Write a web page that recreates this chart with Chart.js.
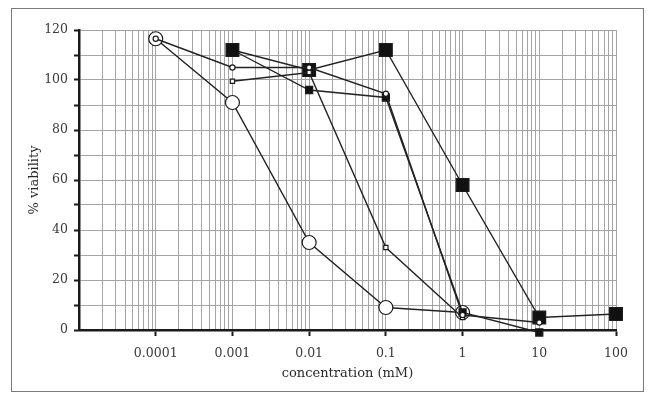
<!DOCTYPE html>
<html>
<head>
<meta charset="utf-8">
<script src="https://cdn.jsdelivr.net/npm/chart.js@4.4.0/dist/chart.umd.min.js"></script>
<style>
    html, body { margin: 0; padding: 0; background: #fff; }
    #wrap { position: relative; width: 655px; height: 395px; }
    #frame { position: absolute; left: 11px; top: 8px; width: 631px; height: 382px; border: 1px solid #7a7a7a; pointer-events: none; }
</style>
</head>
<body>
<div id="wrap">
    <canvas id="chart" width="655" height="395"></canvas>
    <div id="frame"></div>
</div>
<script>
// concentration (mM) on x, % viability on y
const concentrations = [0.0001, 0.001, 0.01, 0.1, 1, 10, 100];
const largeOpenCircles   = [116.5, 91, 35, 9, 7, null, null];
const smallOpenCircles   = [116.5, 105, 105, 94.5, 6, 3, null];
const smallOpenSquares   = [null, 99.5, 103, 33, 5, null, null];
const largeFilledSquares = [null, 112, 104, 112, 58, 5, 6.4];
const smallFilledSquares = [null, 112, 96, 93, 7, -1, null];

// axis ticks
const decades = [0.00001, 0.0001, 0.001, 0.01, 0.1, 1, 10, 100];
const decadeLabels = ['', '0.0001', '0.001', '0.01', '0.1', '1', '10', '100'];
const yTickLabels = [0, 20, 40, 60, 80, 100, 120];

const FONT = 'DejaVu Serif';

function toPoints(values) {
    return concentrations
        .map((c, i) => ({ x: c, y: values[i] }))
        .filter(p => p.y !== null);
}

function decadeIndex(value) {
    return decades.findIndex(d => Math.abs(d - value) / d < 1e-9);
}

// every 1..9 x 10^n gets a grid line, only labelled decades get a tick mark
function buildLogTicks() {
    const ticks = [];
    for (let i = 0; i < decades.length - 1; i++) {
        for (let m = 1; m <= 9; m++) {
            ticks.push({ value: decades[i] * m, major: m === 1 && decadeLabels[i] !== '' });
        }
    }
    ticks.push({ value: decades[decades.length - 1], major: true });
    return ticks;
}

function series(values, style, radius, fill) {
    return {
        data: toPoints(values),
        borderColor: '#222',
        borderWidth: 1.4,
        pointStyle: style,
        pointRadius: radius,
        pointBackgroundColor: fill,
        pointBorderColor: '#1a1a1a',
        pointBorderWidth: 1.2,
        tension: 0,
        clip: false
    };
}

new Chart(document.getElementById('chart').getContext('2d'), {
    type: 'line',
    data: {
        datasets: [
            series(smallOpenCircles, 'circle', 2.6, '#fff'),
            series(smallOpenSquares, 'rect', 3, '#fff'),
            series(largeFilledSquares, 'rect', 9, '#111'),
            series(smallFilledSquares, 'rect', 5, '#111'),
            series(largeOpenCircles, 'circle', 7, '#fff')
        ]
    },
    options: {
        responsive: false,
        animation: false,
        layout: { padding: { top: 30, right: 39, left: 0, bottom: 0 } },
        plugins: {
            legend: { display: false },
            tooltip: { enabled: false }
        },
        scales: {
            x: {
                type: 'logarithmic',
                min: decades[0],
                max: decades[decades.length - 1],
                afterBuildTicks: scale => { scale.ticks = buildLogTicks(); },
                afterFit: scale => { scale.height = 65; },
                border: { color: '#1a1a1a', width: 2.5 },
                grid: {
                    color: '#a4a4a4',
                    lineWidth: 1,
                    tickLength: 6,
                    tickColor: ctx => (ctx.tick && ctx.tick.major ? '#1a1a1a' : 'rgba(0,0,0,0)'),
                    tickWidth: 2
                },
                ticks: {
                    autoSkip: false,
                    maxRotation: 0,
                    padding: 10,
                    color: '#3a3a3a',
                    font: { family: FONT, size: 12.5 },
                    callback: value => {
                        const i = decadeIndex(value);
                        return i >= 0 ? decadeLabels[i] : '';
                    }
                },
                title: {
                    display: true,
                    text: 'concentration (mM)',
                    color: '#2a2a2a',
                    font: { family: FONT, size: 13 },
                    padding: { top: 0, bottom: 14 }
                }
            },
            y: {
                min: 0,
                max: 120,
                afterFit: scale => { scale.width = 79; },
                border: { color: '#1a1a1a', width: 2.5 },
                grid: {
                    color: '#a4a4a4',
                    lineWidth: 1,
                    tickLength: 5,
                    tickColor: '#1a1a1a',
                    tickWidth: 2
                },
                ticks: {
                    stepSize: 10,
                    padding: 6,
                    color: '#3a3a3a',
                    font: { family: FONT, size: 12.5 },
                    callback: value => (yTickLabels.includes(value) ? value : '')
                },
                title: {
                    display: true,
                    text: '% viability',
                    color: '#2a2a2a',
                    font: { family: FONT, size: 13 },
                    padding: { top: 27, bottom: 0 }
                }
            }
        }
    }
});
</script>
</body>
</html>
